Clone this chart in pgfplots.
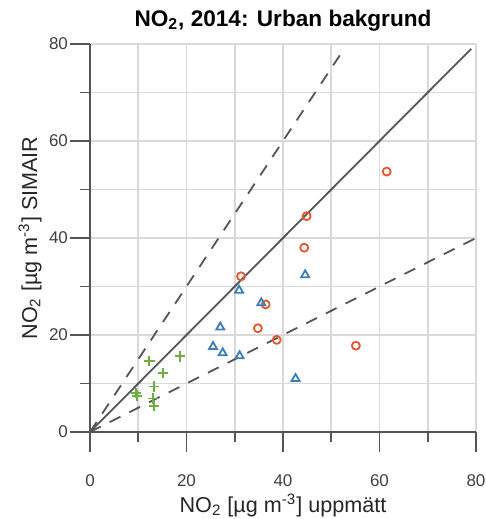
\documentclass[border=0pt]{standalone}
\usepackage{fontspec}
\setmainfont{Liberation Sans}
\usepackage{pgfplots}
\pgfplotsset{compat=1.18}
\definecolor{RedO}{HTML}{E4572E}
\definecolor{BlueT}{HTML}{3C7DBA}
\definecolor{GreenP}{HTML}{6DAE3E}
\definecolor{LineG}{HTML}{555555}
\definecolor{GridG}{HTML}{D9D9D9}
\definecolor{TickG}{HTML}{404040}

\begin{document}
\begin{tikzpicture}
\path[use as bounding box] (-45pt,-43.5pt) rectangle (198pt,216pt);
\begin{axis}[
  at={(0,0)}, anchor=south west,
  scale only axis, width=193pt, height=194pt,
  xmin=0, xmax=80, ymin=0, ymax=80,
  axis x line*=bottom, axis y line*=left,
  axis line style={LineG, line width=0.8pt, -},
  xtick={0,20,...,80}, ytick={0,20,...,80},
  minor xtick={10,30,50,70}, minor ytick={10,30,50,70},
  grid=both,
  major grid style={GridG, line width=0.9pt},
  minor grid style={GridG, line width=0.9pt},
  tick align=outside,
  major tick length=10pt, minor tick length=5pt,
  tick style={LineG, line width=0.8pt},
  /pgf/number format/assume math mode=true,
  tick label style={font=\fontsize{8.5}{10}\selectfont, text=TickG},
  xticklabel shift=8pt,
  yticklabel shift=-2.5pt,
  title={\textbf{NO\textsubscript{2}, 2014: Urban bakgrund}},
  title style={font=\fontsize{11.3}{13}\selectfont, at={(axis description cs:0.5,1)}, anchor=south, yshift=-3pt},
  xlabel={NO\textsubscript{2} [µg m\textsuperscript{-3}] uppmätt},
  ylabel={NO\textsubscript{2} [µg m\textsuperscript{-3}] SIMAIR},
  label style={font=\fontsize{10.8}{13}\selectfont, text=black!85},
  x label style={at={(axis description cs:0.5,0)}, anchor=center, yshift=-36.5pt},
  y label style={at={(axis description cs:0,0.5)}, anchor=center, yshift=30pt},
  clip=false,
]
% reference lines
\addplot[LineG, line width=0.9pt] coordinates {(0,0) (79,79)};
\addplot[LineG, line width=0.9pt, dash pattern=on 6pt off 5pt] coordinates {(0,0) (52,78)};
\addplot[LineG, line width=0.9pt, dash pattern=on 6pt off 5pt] coordinates {(0,0) (80,40)};
% red circles
\addplot[only marks, mark=o, mark size=2pt, RedO, line width=0.9pt] coordinates {
  (61.5,53.7) (44.9,44.5) (44.4,38.0) (31.3,32.1)
  (36.4,26.3) (34.8,21.4) (38.7,19.0) (55.1,17.8)
};
% blue triangles
\addplot[only marks, mark=triangle, mark size=2.3pt, BlueT, line width=0.9pt] coordinates {
  (44.6,32.4) (30.9,29.2) (35.5,26.6) (27.0,21.6)
  (25.5,17.6) (27.5,16.3) (31.0,15.7) (42.6,11.0)
};
% green plus
\addplot[only marks, mark=+, mark size=2.6pt, GreenP, line width=0.9pt] coordinates {
  (12.3,14.6) (18.6,15.6) (15.1,12.2) (13.3,9.4)
  (9.5,8.1) (9.7,7.5) (13.0,6.9) (13.3,5.4)
};
\end{axis}
\end{tikzpicture}
\end{document}
